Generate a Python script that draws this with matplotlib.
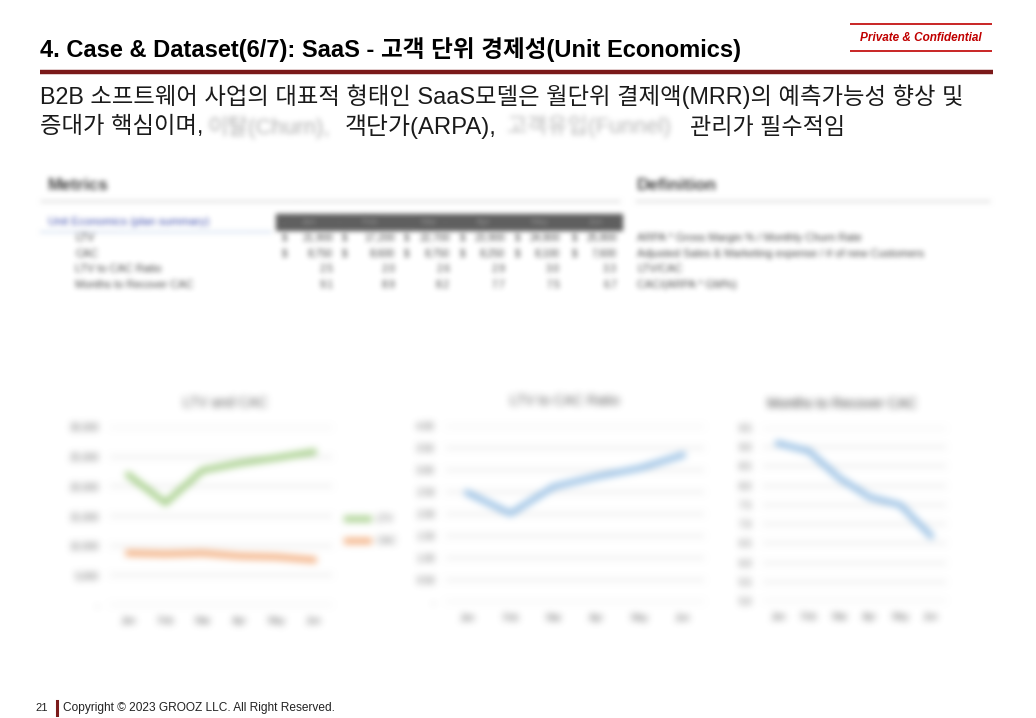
"""
Slide 21 - SaaS unit economics (LTV / CAC charts)
"""

import numpy as np
import matplotlib.pyplot as plt

            #### DATA ####

months = ['Jan', 'Feb', 'Mar', 'Apr', 'May', 'Jun']
ltv = [21900, 17200, 22700, 23900, 24800, 25800]       # LTV per month
cac = [8750, 8600, 8750, 8250, 8100, 7600]             # CAC per month
ratio = [2.48, 2.01, 2.62, 2.85, 3.04, 3.34]           # LTV to CAC ratio
payback = [9.1, 8.9, 8.2, 7.7, 7.5, 6.7]               # months to recover CAC

row_names = ['LTV', 'CAC', 'LTV to CAC Ratio', 'Months to Recover CAC']
definitions = ['ARPA * Gross Margin % / Monthly Churn Rate',
               'Adjusted Sales & Marketing expense / # of new Customers',
               'LTV/CAC',
               'CAC/(ARPA * GM%)']

            #### HELPERS ####

W, H = 1036, 718
plt.rcParams['font.family'] = ['Liberation Sans', 'Noto Sans CJK KR', 'DejaVu Sans']

def fx(x):
    return x / W

def fy(y):
    return 1 - y / H

def box(a, r, axis):
    """running mean of width 2r+1 along one axis"""
    n = a.shape[axis]
    pw = [(0, 0)] * a.ndim
    pw[axis] = (r + 1, r)
    c = np.cumsum(np.pad(a, pw), axis=axis)
    hi = np.take(c, np.arange(2 * r + 1, 2 * r + 1 + n), axis=axis)
    lo = np.take(c, np.arange(0, n), axis=axis)
    return (hi - lo) / (2 * r + 1)

def make_blur(r):
    """agg filter : soft gaussian-ish blur (3 box passes)"""
    def blur(img, dpi):
        pad = 4 * r
        a = np.pad(img, ((pad, pad), (pad, pad), (0, 0)))
        st = np.concatenate([a[:, :, :3] * a[:, :, 3:], a[:, :, 3:]], axis=2)
        for _ in range(3):
            st = box(st, r, 0)
            st = box(st, r, 1)
        out = np.empty_like(st)
        alpha = st[:, :, 3:]
        out[:, :, :3] = np.clip(st[:, :, :3] / np.maximum(alpha, 1e-6), 0, 1)
        out[:, :, 3:] = np.clip(alpha, 0, 1)
        return out, -pad, -pad
    return blur

blur_s = make_blur(1)
blur_m = make_blur(2)
blur_l = make_blur(3)

fig = plt.figure(figsize=(W / 100, H / 100), dpi=100)

def put(x, y, s, size, blur=None, **kw):
    kw.setdefault('va', 'center')
    t = fig.text(fx(x), fy(y), s, fontsize=size, **kw)
    if blur is not None:
        t.set_agg_filter(blur)
    return t

def hline(x0, x1, y, color, lw, blur=None):
    ln = plt.Line2D([fx(x0), fx(x1)], [fy(y), fy(y)], color=color, lw=lw,
                    transform=fig.transFigure, solid_capstyle='butt')
    if blur is not None:
        ln.set_agg_filter(blur)
    fig.add_artist(ln)

            #### HEADER ####

hline(850, 992, 24, '#c00000', 1.2)
hline(850, 992, 51, '#c00000', 1.2)
put(921, 38, 'Private & Confidential', 8.5, color='#c00000',
    fontweight='bold', fontstyle='italic', ha='center')

put(40, 50, '4. Case & Dataset(6/7): SaaS - 고객 단위 경제성(Unit Economics)', 17,
    fontweight='bold', color='black')
hline(40, 993, 72, '#7b1a1a', 3.2)

put(40, 97, 'B2B 소프트웨어 사업의 대표적 형태인 SaaS모델은 월단위 결제액(MRR)의 예측가능성 향상 및',
    16.8, color='#1a1a1a')
put(40, 127, '증대가 핵심이며,', 16.8, color='#1a1a1a')
put(207, 127, '이탈(Churn),', 16, color='#b0b0b0', blur=blur_m)
put(345, 127, '객단가(ARPA),', 17.2, color='#1a1a1a')
put(507, 127, '고객유입(Funnel)', 16, color='#b8b8b8', blur=blur_m)
put(690, 127, '관리가 필수적임', 16.6, color='#1a1a1a')

            #### TABLE (blurred) ####

put(48, 185, 'Metrics', 12.5, color='#444444', fontweight='bold', blur=blur_m)
put(637, 185, 'Definition', 12.5, color='#444444', fontweight='bold', blur=blur_m)
hline(40, 620, 201, '#e4e4e4', 2, blur=blur_m)
hline(635, 990, 201, '#e4e4e4', 2, blur=blur_m)

put(48, 222, 'Unit Economics (plan summary)', 8.2, color='#4050b0', blur=blur_m)
hline(40, 272, 232, '#d6e2f2', 1.5, blur=blur_m)
bar = plt.Rectangle((fx(276), fy(230)), (622 - 276) / W, 16 / H, color='#606060',
                    transform=fig.transFigure)
bar.set_agg_filter(blur_m)
fig.add_artist(bar)

col_dollar = [285, 345, 407, 463, 518, 575]
col_right = [333, 395, 450, 505, 560, 617]
row_y = [238, 254, 269, 285]
for i in range(len(months)):
    put((col_dollar[i] + col_right[i]) / 2, 222, months[i], 7, color='#8a8a8a',
        ha='center', blur=blur_m)
    put(col_dollar[i], row_y[0], '$', 7.2, color='#444444', ha='center', blur=blur_m)
    put(col_right[i], row_y[0], f'{ltv[i]:,}', 7.2, color='#444444', ha='right', blur=blur_m)
    put(col_dollar[i], row_y[1], '$', 7.2, color='#444444', ha='center', blur=blur_m)
    put(col_right[i], row_y[1], f'{cac[i]:,}', 7.2, color='#444444', ha='right', blur=blur_m)
    put(col_right[i], row_y[2], f'{ratio[i]:.1f}', 7.2, color='#444444', ha='right', blur=blur_m)
    put(col_right[i], row_y[3], f'{payback[i]:.1f}', 7.2, color='#444444', ha='right', blur=blur_m)
for name, d, y in zip(row_names, definitions, row_y):
    put(75, y, name, 7.9, color='#444444', blur=blur_m)
    put(637, y, d, 7.9, color='#444444', blur=blur_m)

            #### CHARTS (blurred) ####

def chart(left, right, top, bottom, title, tx, ty, tcol='#5a5a5a'):
    ax = fig.add_axes([fx(left), fy(bottom), (right - left) / W, (bottom - top) / H])
    ax.set_facecolor('none')
    for s in ax.spines.values():
        s.set_visible(False)
    ax.grid(axis='y', color='#e0e0e0', lw=1.2)
    ax.set_axisbelow(True)
    ax.tick_params(length=0, labelsize=7, labelcolor='#6a6a6a', pad=8)
    ax.set_xlim(-0.5, len(months) - 0.5)
    ax.set_xticks(range(len(months)))
    ax.set_xticklabels(months)
    ax.set_agg_filter(blur_l)
    put(tx, ty, title, 10, color=tcol, ha='center', blur=blur_l)
    return ax

ax1 = chart(110, 332, 427, 605, 'LTV and CAC', 225, 403)
ax1.plot(range(6), ltv, color='#a9d18e', lw=4.5, label='LTV')
ax1.plot(range(6), cac, color='#f4b183', lw=4.5, label='CAC')
ax1.set_ylim(0, 30000)
ax1.set_yticks(np.arange(0, 30001, 5000))
ax1.set_yticklabels(['-'] + [f'{v:,}' for v in range(5000, 30001, 5000)])
ax1.legend(frameon=False, loc='center left', bbox_to_anchor=(1.03, 0.42),
           fontsize=7, labelcolor='#6a6a6a', handlelength=2.2, labelspacing=1.2)

ax2 = chart(446, 704, 426, 602, 'LTV to CAC Ratio', 565, 401)
ax2.plot(range(6), ratio, color='#9dc3e6', lw=4.5)
ax2.set_ylim(0, 4)
ax2.set_yticks(np.arange(0, 4.01, 0.5))
ax2.set_yticklabels(['-'] + [f'{v:.2f}' for v in np.arange(0.5, 4.01, 0.5)])

ax3 = chart(763, 946, 428, 601, 'Months to Recover CAC', 842, 404, tcol='#3a3a3a')
ax3.plot(range(6), payback, color='#9dc3e6', lw=4.5)
ax3.set_ylim(5, 9.5)
ax3.set_yticks(np.arange(5, 9.51, 0.5))
ax3.set_yticklabels([f'{v:.1f}' for v in np.arange(5, 9.51, 0.5)])

            #### FOOTER ####

put(35, 708, '21', 8, color='#222222')
ln = plt.Line2D([fx(57), fx(57)], [fy(701), fy(715)], color='#7b1a1a', lw=2.2,
                transform=fig.transFigure)
fig.add_artist(ln)
put(63, 708, 'Copyright © 2023 GROOZ LLC. All Right Reserved.', 8.6, color='#222222')

plt.savefig('out.png', dpi=100)
plt.close()
